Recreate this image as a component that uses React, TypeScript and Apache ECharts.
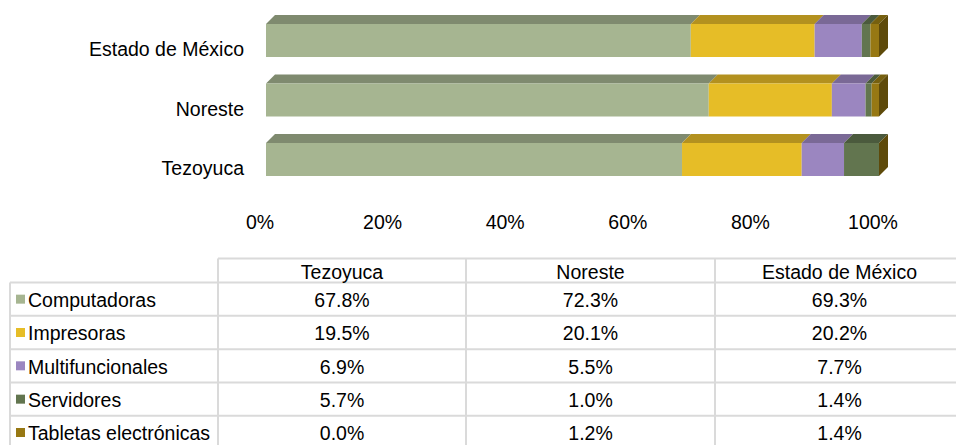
import React, { useEffect, useRef } from 'react';
import * as echarts from 'echarts';

// ---- data ----
const categories = ['Tezoyuca', 'Noreste', 'Estado de México'];
const seriesNames = ['Computadoras', 'Impresoras', 'Multifuncionales', 'Servidores', 'Tabletas electrónicas'];
const computadoras = [67.8, 72.3, 69.3];
const impresoras = [19.5, 20.1, 20.2];
const multifuncionales = [6.9, 5.5, 7.7];
const servidores = [5.7, 1.0, 1.4];
const tabletas = [0.0, 1.2, 1.4];
const valueSets = [computadoras, impresoras, multifuncionales, servidores, tabletas];

// ---- styles ----
const frontColors = ['#A6B591', '#E6BD27', '#9B86C0', '#62754F', '#977813'];
const topColors = ['#7F8A6F', '#B3911F', '#7A6996', '#4B5A3D', '#76600F'];
const sideColors = ['#6E785F', '#8A6F14', '#5E5078', '#3B4730', '#5E4A0A'];
const FONT = '"Liberation Sans", Arial, sans-serif';
const FS = 19.5;
const DEPTH = 9;
const SHIFT_X = 6;
const SHIFT_Y = -8.5;

export default function App() {
  const ref = useRef<HTMLDivElement>(null);
  useEffect(() => {
    if (!ref.current) return;
    const chart = echarts.init(ref.current, null, { renderer: 'svg' });

    const totals = categories.map((_, ci) => valueSets.reduce((s, arr) => s + arr[ci], 0));
    const cum = categories.map(() => 0);
    const series: any[] = valueSets.map((arr, si) => {
      const data = categories.map((_, ci) => {
        const pct = (arr[ci] / totals[ci]) * 100;
        const start = cum[ci];
        cum[ci] += pct;
        return [start, cum[ci], ci];
      });
      const isLast = si === valueSets.length - 1;
      return {
        type: 'custom',
        name: seriesNames[si],
        encode: { x: [0, 1], y: 2 },
        data,
        z: 2 + si,
        renderItem: (params: any, api: any) => {
          const s = api.value(0);
          const e = api.value(1);
          const c = api.value(2);
          const p0 = api.coord([s, c]);
          const p1 = api.coord([e, c]);
          const band = api.size([0, 1])[1];
          const h = band * 0.555;
          const fx0 = p0[0] + SHIFT_X;
          const fx1 = p1[0] + SHIFT_X;
          const cy = p0[1] + SHIFT_Y;
          const ft = cy - h / 2;
          const fb = cy + h / 2;
          const children: any[] = [
            {
              type: 'polygon',
              shape: { points: [[fx0, ft], [fx1, ft], [fx1 + DEPTH, ft - DEPTH], [fx0 + DEPTH, ft - DEPTH]] },
              style: { fill: topColors[si] },
            },
            {
              type: 'rect',
              shape: { x: fx0, y: ft, width: Math.max(0, fx1 - fx0), height: fb - ft },
              style: { fill: frontColors[si] },
            },
          ];
          if (isLast) {
            children.push({
              type: 'polygon',
              shape: { points: [[fx1, ft], [fx1 + DEPTH, ft - DEPTH], [fx1 + DEPTH, fb - DEPTH], [fx1, fb]] },
              style: { fill: sideColors[si] },
            });
          }
          return { type: 'group', children };
        },
      };
    });

    // ---- data table ----
    const colX = [10, 218, 466, 715, 964];
    const headerTop = 258.5;
    const rowTop = 282.5;
    const rowH = 33.33;
    const lineColor = '#DADADA';
    const graphics: any[] = [];
    graphics.push({ type: 'line', shape: { x1: colX[1], y1: headerTop, x2: 956, y2: headerTop }, style: { stroke: lineColor, lineWidth: 2 } });
    for (let r = 0; r <= seriesNames.length; r++) {
      const y = rowTop + r * rowH;
      graphics.push({ type: 'line', shape: { x1: colX[0], y1: y, x2: 956, y2: y }, style: { stroke: lineColor, lineWidth: 2 } });
    }
    graphics.push({ type: 'line', shape: { x1: colX[0], y1: rowTop, x2: colX[0], y2: 445 }, style: { stroke: lineColor, lineWidth: 2 } });
    [1, 2, 3].forEach((k) => {
      graphics.push({ type: 'line', shape: { x1: colX[k], y1: headerTop, x2: colX[k], y2: 445 }, style: { stroke: lineColor, lineWidth: 2 } });
    });
    categories.forEach((cat, ci) => {
      graphics.push({
        type: 'text',
        x: (colX[ci + 1] + colX[ci + 2]) / 2,
        y: (headerTop + rowTop) / 2 + 1,
        style: { text: cat, font: `${FS}px ${FONT}`, fill: '#000', align: 'center', verticalAlign: 'middle' },
      });
    });
    seriesNames.forEach((name, si) => {
      const cy = rowTop + (si + 0.5) * rowH;
      graphics.push({ type: 'rect', shape: { x: 16, y: cy - 4.5, width: 9, height: 9 }, style: { fill: frontColors[si] } });
      graphics.push({
        type: 'text', x: 28, y: cy + 1,
        style: { text: name, font: `${FS}px ${FONT}`, fill: '#000', align: 'left', verticalAlign: 'middle' },
      });
      categories.forEach((_, ci) => {
        graphics.push({
          type: 'text',
          x: (colX[ci + 1] + colX[ci + 2]) / 2,
          y: cy + 1,
          style: { text: valueSets[si][ci].toFixed(1) + '%', font: `${FS}px ${FONT}`, fill: '#000', align: 'center', verticalAlign: 'middle' },
        });
      });
    });

    chart.setOption({
      animation: false,
      backgroundColor: '#fff',
      grid: { left: 260, top: 19.25, width: 613, height: 178.5, containLabel: false },
      xAxis: {
        type: 'value', min: 0, max: 100, interval: 20,
        axisLine: { show: false }, axisTick: { show: false }, splitLine: { show: false },
        axisLabel: { formatter: '{value}%', color: '#000', fontFamily: FONT, fontSize: FS, margin: 24, verticalAlign: 'middle' },
      },
      yAxis: {
        type: 'category', data: categories,
        axisLine: { show: false }, axisTick: { show: false }, splitLine: { show: false },
        axisLabel: { color: '#000', fontFamily: FONT, fontSize: FS, margin: 16 },
      },
      series,
      graphic: graphics,
    });
    return () => chart.dispose();
  }, []);
  return <div ref={ref} style={{ position: 'fixed', left: 0, top: 0, width: 956, height: 445 }} />;
}
